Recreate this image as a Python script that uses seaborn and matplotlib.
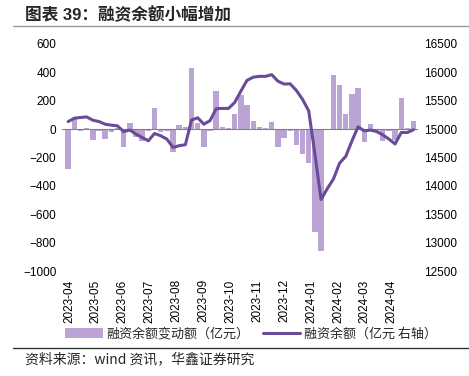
import numpy as np
import pandas as pd
import matplotlib
matplotlib.use("Agg")
import matplotlib.pyplot as plt
import matplotlib.dates as mdates
from matplotlib.patches import Patch
from matplotlib.lines import Line2D
import seaborn as sns

# ==========================================
# Data (weekly)
# ==========================================
dates = pd.date_range("2023-03-31", periods=57, freq="7D")

# 融资余额变动额 (亿元), left axis
change = [-280, 70, -10, 10, -77, -15, -70, -20, 10, -128,
          40, -54, -82, -15, 147, -20, -15, -163, 30, 15,
          430, 40, -124, -10, 268, 15, 10, 105, 240, 168,
          56, 15, 5, 50, -127, -63, -12, -110, -175, -240,
          -726, -860, 0, 380, 310, 110, 245, 287, -93, 35,
          -10, -85, -15, -75, 220, 10, 54]

# 融资余额 (亿元), right axis
balance = [15133, 15192, 15205, 15215, 15157, 15133, 15087, 15070, 15058, 14958,
           14983, 14912, 14853, 14795, 14923, 14883, 14825, 14678, 14708, 14726,
           15160, 15200, 15087, 15150, 15360, 15365, 15365, 15470, 15670, 15860,
           15915, 15930, 15930, 15960, 15845, 15795, 15797, 15681, 15524, 15320,
           14560, 13760, 13950, 14120, 14400, 14520, 14790, 15040, 14970, 14983,
           14958, 14900, 14825, 14738, 14941, 14941, 14990]

month_ticks = pd.date_range("2023-04-01", "2024-04-01", freq="MS")
left_ticks = list(range(-1000, 601, 200))
right_ticks = list(range(12500, 16501, 500))

title = "图表 39：融资余额小幅增加"
source = "资料来源：wind 资讯，华鑫证券研究"
bar_label = "融资余额变动额（亿元）"
line_label = "融资余额（亿元 右轴）"

bar_color = "#BBA3D4"
line_color = "#6A4B9A"

# ==========================================
# Style
# ==========================================
sns.set_style("white")
plt.rcParams["font.family"] = ["Liberation Sans", "Noto Sans CJK SC", "DejaVu Sans"]
plt.rcParams["axes.unicode_minus"] = True

x = mdates.date2num(dates)

fig = plt.figure(figsize=(4.69, 3.76), dpi=100)
ax = fig.add_axes([62 / 469, 1 - 271 / 376, (418 - 62) / 469, (271 - 44) / 376])

sns.barplot(x=x, y=change, native_scale=True, color=bar_color, saturation=1,
            width=0.88, linewidth=0, ax=ax)
ax.axhline(0, color="#808080", lw=0.8, zorder=3)

ax2 = ax.twinx()
sns.lineplot(x=x, y=balance, color=line_color, linewidth=2.2, ax=ax2)

ax.set_xlim(mdates.date2num(pd.Timestamp("2023-03-24")),
            mdates.date2num(pd.Timestamp("2024-05-01")))
ax.set_ylim(-1000, 600)
ax2.set_ylim(12500, 16500)

ax.set_yticks(left_ticks)
ax2.set_yticks(right_ticks)
ax.set_xticks(mdates.date2num(month_ticks))
ax.set_xticklabels([d.strftime("%Y-%m") for d in month_ticks], rotation=90)

for a in (ax, ax2):
    for s in a.spines.values():
        s.set_visible(False)
    a.set_xlabel("")
    a.set_ylabel("")
    a.tick_params(length=0, labelsize=8.5, colors="black")
ax.tick_params(axis="y", pad=4)
ax2.tick_params(axis="y", pad=4)
ax.tick_params(axis="x", pad=6)

# legend
handles = [Patch(facecolor=bar_color, edgecolor="none", label=bar_label),
           Line2D([0], [0], color=line_color, lw=2.2, label=line_label)]
fig.legend(handles=handles, loc="center", bbox_to_anchor=(0.535, 1 - 334 / 376),
           ncol=2, frameon=False, handlelength=2.9, handleheight=0.9,
           handletextpad=0.3, columnspacing=1.0,
           prop={"family": ["Noto Sans CJK SC"], "size": 9.4})

# title, source and rules
fig.text(25 / 469, 1 - 15 / 376, title, fontsize=12, fontweight="bold",
         va="center", ha="left", family=["Liberation Sans", "Noto Sans CJK SC"])
fig.add_artist(Line2D([13 / 469, 1], [1 - 25.5 / 376] * 2, color="#999999", lw=1.0))
fig.add_artist(Line2D([13 / 469, 1], [1 - 348 / 376] * 2, color="#333333", lw=1.0))
fig.text(25 / 469, 1 - 359 / 376, source, fontsize=10, va="center", ha="left",
         family=["Noto Sans CJK SC", "DejaVu Sans"])

fig.savefig("out.png", dpi=100)
